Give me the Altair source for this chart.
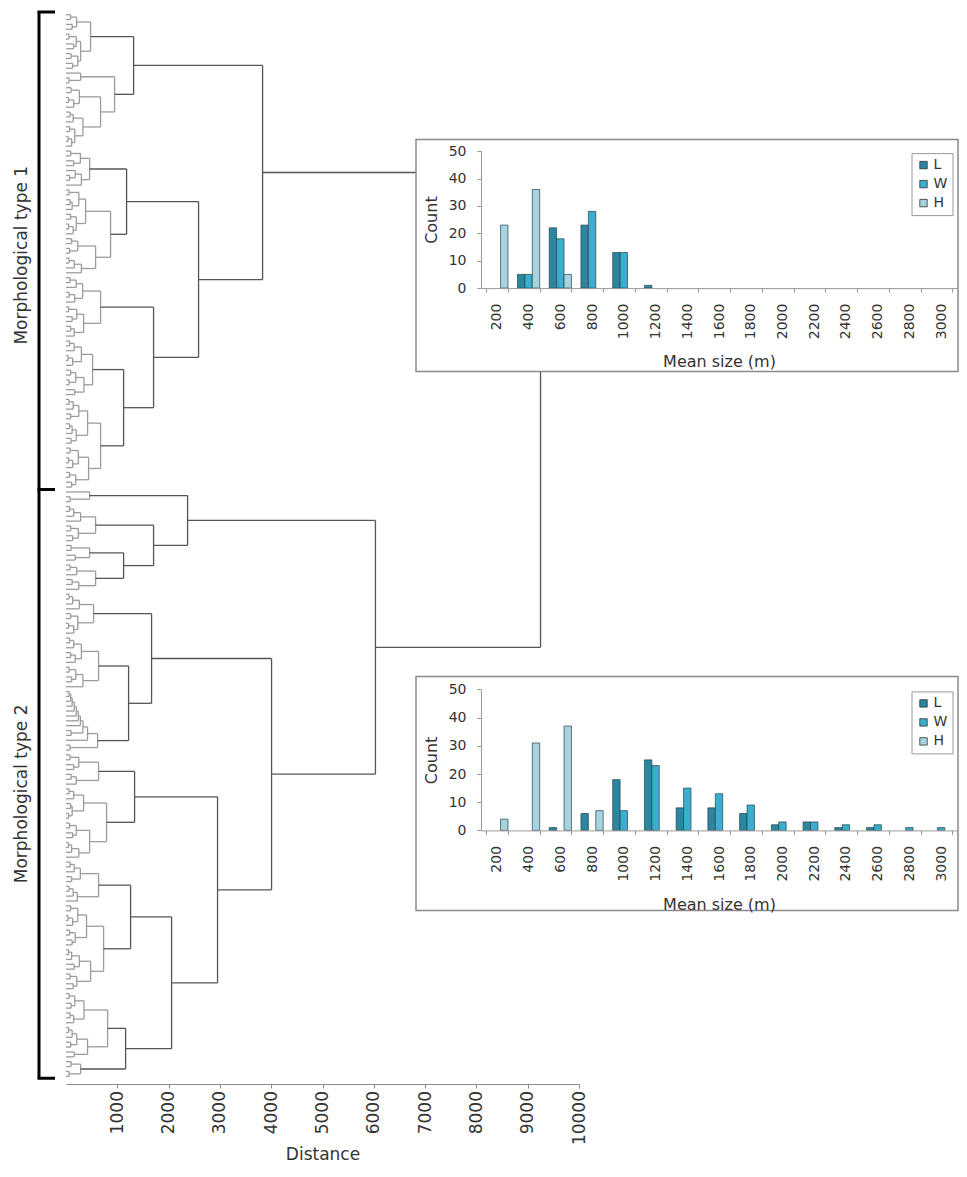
import altair as alt
import pandas as pd

# ---------------- Dendrogram (o = leaf, (a,b)h = merge at distance h) ----------------
# Morphological type 1
A1a = "((o,o)90,(o,o)120)207"
A1b = "(((o,o)60,(o,o)150)200,((o,o)100,(o,o)130)230)285"
A2a = "(o,(o,o)60)285"
A2b = "(((o,o)100,((o,o)50,o)150)260,(((o,o)80,o)140,((o,o)70,((o,o)40,o)110)170)330)674"
B1a = "(((o,o)90,(o,o)150)280,((o,(o,o)70)180,o)300)460"
B1b1 = "(((o,o)60,((o,o)80,o)120)250,((o,o)90,((o,o)50,o)140)200)382"
B1b2 = "(((o,o)110,(o,o)70)230,(((o,o)60,o)160,o)300)577"
B2a1 = "(((o,o)80,o)200,((o,o)60,o)170)324"
B2a2 = "(((o,o)50,(o,o)120)210,((o,o)90,o)160)343"
B2b1 = "((((o,o)70,o)160,((o,o)40,o)130)300,(((o,o)90,(o,o)60)190,(o,o)170)350)518"
B2b2a = "((((o,o)60,o)140,(o,o)90)250,(((o,o)70,o)120,(o,o)100)200)421"
B2b2b = "(((o,o)80,((o,o)50,o)130)240,((o,o)70,(o,o)110)190)440"

A1 = f"({A1a},{A1b})479"
A2 = f"({A2a},{A2b})947"
A = f"({A1},{A2})1318"
B1b = f"({B1b1},{B1b2})869"
B1 = f"({B1a},{B1b})1181"
B2a = f"({B2a1},{B2a2})674"
B2b2 = f"({B2b2a},{B2b2b})674"
B2b = f"({B2b1},{B2b2})1123"
B2 = f"({B2a},{B2b})1707"
B = f"({B1},{B2})2584"
T1 = f"({A},{B})3832"

# Morphological type 2
C1 = "(o,(o,o)80)460"
C2a = "((((o,o)70,o)150,o)285,((o,o)90,(o,o)130)240)577"
C2b1 = "((o,o)100,(o,o)180)460"
C2b2 = "(((o,o)80,o)210,((o,o)120,o)250)577"
D1a = "((((o,o)60,o)130,o)260,((o,o)90,((o,o)50,o)150)230)538"
D1b1 = "((((o,o)70,o)150,((o,o)90,o)180)300,(((o,o)60,(o,o)110)190,o)330)635"
D1b2_core = "(((((((o,o)60,o)90,o)120,o)160,o)200,o)240,o)280"
D2a1 = "(((o,o)80,(o,o)150)250,((o,o)100,o)200)635"
D2a2a = "(((o,o)60,o)150,((o,o)90,(o,o)50)120)343"
D2a2b = "(((o,o)70,(o,o)130)200,(((o,o)50,o)110,o)250)460"
D2b1a = "((((o,o)80,o)160,(o,o)110)280,(((o,o)60,o)140,o)220)635"
D2b1b1 = "(((o,o)90,((o,o)40,o)130)230,((o,o)70,(o,o)120)180)400"
D2b1b2 = "((((o,o)50,o)110,(o,o)160)260,((o,o)80,(o,o)140)210)480"
D2b2a1 = "(((o,o)60,(o,o)100)170,((o,o)80,o)150)350"
D2b2a2 = "((((o,o)50,o)120,(o,o)90)210,(o,o)160)420"
D2b2b = "((o,o)100,(o,o)60)285"

D1b2 = f"((({D1b2_core},(o,o)100)330,o)420,(o,o)80)616"
C2b = f"({C2b1},{C2b2})1123"
C2 = f"({C2a},{C2b})1707"
C = f"({C1},{C2})2370"
D1b = f"({D1b1},{D1b2})1220"
D1 = f"({D1a},{D1b})1668"
D2a2 = f"({D2a2a},{D2a2b})791"
D2a = f"({D2a1},{D2a2})1337"
D2b1b = f"({D2b1b1},{D2b1b2})733"
D2b1 = f"({D2b1a},{D2b1b})1259"
D2b2a = f"({D2b2a1},{D2b2a2})811"
D2b2 = f"({D2b2a},{D2b2b})1162"
D2b = f"({D2b1},{D2b2})2058"
D2 = f"({D2a},{D2b})2954"
D = f"({D1},{D2})4007"
T2 = f"({C},{D})6032"
ROOT = f"({T1},{T2})9250"

group_labels = ["Morphological type 1", "Morphological type 2"]
group_label_pos = [49.4, 160.0]     # leaf-index position of the side labels
dist_ticks = [1000, 2000, 3000, 4000, 5000, 6000, 7000, 8000, 9000, 10000]

# ---------------- Histograms ----------------
bins = [200, 400, 600, 800, 1000, 1200, 1400, 1600, 1800, 2000, 2200, 2400, 2600, 2800, 3000]
series = ["L", "W", "H"]
type1_L = [0, 5, 22, 23, 13, 1, 0, 0, 0, 0, 0, 0, 0, 0, 0]
type1_W = [0, 5, 18, 28, 13, 0, 0, 0, 0, 0, 0, 0, 0, 0, 0]
type1_H = [23, 36, 5, 0, 0, 0, 0, 0, 0, 0, 0, 0, 0, 0, 0]
type2_L = [0, 0, 1, 6, 18, 25, 8, 8, 6, 2, 3, 1, 1, 0, 0]
type2_W = [0, 0, 0, 0, 7, 23, 15, 13, 9, 3, 3, 2, 2, 1, 1]
type2_H = [4, 31, 37, 7, 0, 0, 0, 0, 0, 0, 0, 0, 0, 0, 0]
count_ticks = [0, 10, 20, 30, 40, 50]
series_colors = ["#2b86a0", "#39aecd", "#a7d3e0"]

FONT = "DejaVu Sans"
TXT = "#333333"

# layout (pixels, relative to the dendrogram plot origin)
W, H = 513, 1072
HX0, HX1 = 415.0, 891.0            # histogram plot x range
BOX_X0, BOX_X1 = 350.0, 892.0      # inset frame x range
LEG_X = 845.5
insets = [
    # (y at count 0, y at count 50, frame top, frame bottom)
    (276.1, 139.1, 127.4, 359.4),
    (818.4, 677.4, 664.4, 898.4),
]


def parse(s):
    pos = 0

    def node():
        nonlocal pos
        if s[pos] == "o":
            pos += 1
            return None
        pos += 1
        kids = [node()]
        while s[pos] == ",":
            pos += 1
            kids.append(node())
        pos += 1
        j = pos
        while pos < len(s) and (s[pos].isdigit() or s[pos] == "."):
            pos += 1
        return (float(s[j:pos]), kids)

    return node()


segments = []
leaf_counter = [0]


def layout(n):
    if n is None:
        y = leaf_counter[0]
        leaf_counter[0] += 1
        return float(y), 0.0
    h, kids = n
    placed = [layout(k) for k in kids]
    ys_ = [p[0] for p in placed]
    tone = "dark" if h >= 1000 else "light"
    for yc, hc in placed:
        segments.append({"x": hc, "x2": h, "y": yc, "y2": yc, "tone": tone})
    segments.append({"x": h, "x2": h, "y": min(ys_), "y2": max(ys_), "tone": tone})
    return (min(ys_) + max(ys_)) / 2, h


layout(parse(ROOT))
N = leaf_counter[0]
n1 = T1.count("o")

seg_df = pd.DataFrame(segments)
xsc = alt.Scale(domain=[0, 10000], nice=False, zero=False)
ysc = alt.Scale(domain=[-0.55, N + 0.58], nice=False, zero=False, reverse=True)
dist_axis = alt.Axis(values=dist_ticks, title="Distance", orient="bottom", labelAngle=270,
                     labelFontSize=17, titleFontSize=17, tickSize=4, labelPadding=2.5,
                     titlePadding=2, domainColor="#8a8a8a", tickColor="#8a8a8a",
                     labelColor=TXT, titleColor=TXT, titleFontWeight="normal", grid=False,
                     format="d")

seg_df["color"] = seg_df["tone"].map({"dark": "#555555", "light": "#9c9c9c"})
lines = alt.Chart(seg_df).mark_rule(strokeWidth=1.3).encode(
    x=alt.X("x:Q", scale=xsc, axis=dist_axis),
    x2="x2:Q",
    y=alt.Y("y:Q", scale=ysc, axis=None),
    y2="y2:Q",
    color=alt.Color("color:N", scale=None),
)

starts = [-0.55, n1 - 0.5]
ends = [n1 - 0.5, N - 0.6]
grp_df = pd.DataFrame({"start": starts, "end": ends, "label": group_labels,
                       "mid": group_label_pos})
tick_df = pd.DataFrame({"y": [-0.55, n1 - 0.5, N - 0.6]})

brackets = alt.Chart(grp_df).mark_rule(color="black", strokeWidth=3).encode(
    y=alt.Y("start:Q", scale=ysc, axis=None), y2="end:Q", x=alt.value(-27))
bticks = alt.Chart(tick_df).mark_rule(color="black", strokeWidth=3).encode(
    y=alt.Y("y:Q", scale=ysc, axis=None), x=alt.value(-28.5), x2=alt.value(-11))
glabels = alt.Chart(grp_df).mark_text(angle=270, fontSize=17, color=TXT, align="center",
                                      baseline="middle", font=FONT).encode(
    y=alt.Y("mid:Q", scale=ysc, axis=None), x=alt.value(-44.4), text="label:N")

dendro = alt.layer(lines, brackets, bticks, glabels)


def hist(Ls, Ws, Hs, geo):
    y0, y50, box_top, box_bottom = geo
    rows = []
    for b, l, w, hh in zip(bins, Ls, Ws, Hs):
        for s, v in (("L", l), ("W", w), ("H", hh)):
            if v > 0:
                rows.append({"bin": str(b), "series": s, "count": v})
    df = pd.DataFrame(rows)
    box = alt.Chart(pd.DataFrame({"k": [0]})).mark_rect(
        fill="white", stroke="#8a8a8a", strokeWidth=1.5).encode(
        x=alt.value(BOX_X0), x2=alt.value(BOX_X1), y=alt.value(box_top), y2=alt.value(box_bottom))
    bars = alt.Chart(df).mark_bar(stroke="#24424c", strokeWidth=0.7).encode(
        x=alt.X("bin:N", sort=[str(b) for b in bins],
                scale=alt.Scale(domain=[str(b) for b in bins], range=[HX0, HX1],
                                paddingInner=0.3, paddingOuter=0.15),
                axis=alt.Axis(title="Mean size (m)", orient="bottom", offset=y0 - H,
                              labelAngle=270, tickBand="extent", labelFontSize=14,
                              titleFontSize=16, tickSize=4, labelPadding=11, titlePadding=15,
                              domainColor="#999999", tickColor="#999999", labelColor=TXT,
                              titleColor=TXT, titleFontWeight="normal", zindex=1)),
        xOffset=alt.XOffset("series:N", sort=series,
                            scale=alt.Scale(domain=series, paddingInner=0, paddingOuter=0)),
        y=alt.Y("count:Q", scale=alt.Scale(domain=[0, 50], range=[y0, y50], nice=False),
                axis=alt.Axis(values=count_ticks, title="Count", orient="left", offset=-HX0,
                              labelFontSize=14, titleFontSize=16,
                              tickSize=4, labelPadding=11, titlePadding=9, grid=False,
                              domainColor="#999999", tickColor="#999999", labelColor=TXT,
                              titleColor=TXT, titleFontWeight="normal", zindex=1)),
        color=alt.Color("series:N", sort=series,
                        scale=alt.Scale(domain=series, range=series_colors),
                        legend=alt.Legend(title=None, orient="none", legendX=LEG_X,
                                          legendY=y50 + 2, symbolType="square", symbolSize=55,
                                          symbolStrokeColor="#333333", symbolStrokeWidth=0.8,
                                          labelFontSize=14, labelColor=TXT, padding=5,
                                          rowPadding=5, strokeColor="#999999", fillColor="white",
                                          labelOffset=3, zindex=1)),
    )
    return alt.layer(box, bars)


hist1 = hist(type1_L, type1_W, type1_H, insets[0])
hist2 = hist(type2_L, type2_W, type2_H, insets[1])

chart = alt.layer(dendro, hist1, hist2).resolve_scale(
    x="independent", y="independent", color="independent", xOffset="independent"
).resolve_axis(x="independent", y="independent").resolve_legend(color="independent").properties(
    width=W, height=H, padding={"left": 4, "top": 2, "right": 0, "bottom": 0}
).configure(font=FONT).configure_view(strokeWidth=0)

chart.save("out.html", embed_options={"renderer": "svg", "actions": False})
